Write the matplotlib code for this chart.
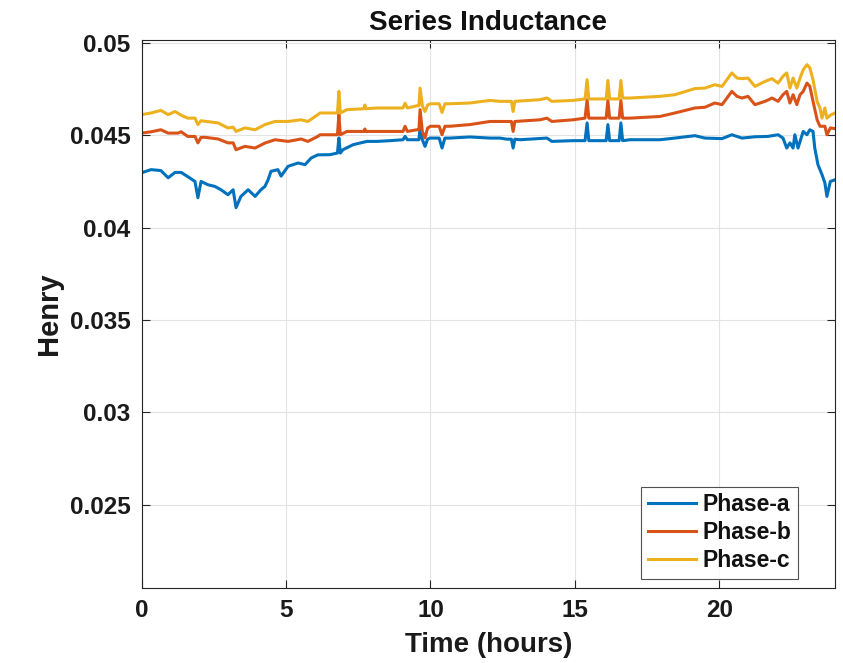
import matplotlib
matplotlib.use("Agg")
import matplotlib.pyplot as plt
import numpy as np

plt.rcParams['font.family'] = ['Liberation Sans', 'DejaVu Sans']
plt.rcParams['font.weight'] = 'bold'

# values (hours, Henry)
tA = [0, 0.33, 0.67, 0.92, 1.16, 1.37, 1.6, 1.85, 1.95, 2.06, 2.3, 2.54, 2.75, 2.99,
      3.17, 3.27, 3.44, 3.69, 3.93, 4.13, 4.27, 4.38, 4.48, 4.72, 4.83, 5.07, 5.42,
      5.66, 5.87, 6.1, 6.52, 6.78, 6.83, 6.88, 6.97, 7.32, 7.8, 8.15, 8.6, 9.05, 9.12,
      9.2, 9.5, 9.6, 9.64, 9.72, 9.81, 9.9, 9.98, 10.3, 10.4, 10.5, 10.67, 11.36,
      12.06, 12.4, 12.64, 12.8, 12.86, 12.92, 13.1, 14.03, 14.2, 14.93, 15.35, 15.42,
      15.48, 15.62, 16.08, 16.14, 16.2, 16.53, 16.59, 16.65, 16.9, 17.94, 18.46,
      19.15, 19.5, 20.09, 20.43, 20.78, 21.23, 21.68, 22.03, 22.2, 22.33, 22.44,
      22.55, 22.61, 22.72, 22.9, 23.03, 23.13, 23.24, 23.3, 23.41, 23.55, 23.65,
      23.72, 23.84, 24.0]
phaseA = [0.04298, 0.04315, 0.0431, 0.04271, 0.0430, 0.0430, 0.04277, 0.04251, 0.04163,
          0.04251, 0.04233, 0.04224, 0.04206, 0.04179, 0.04206, 0.04109, 0.0417, 0.04206,
          0.0417, 0.04206, 0.04224, 0.0426, 0.04306, 0.04315, 0.0428, 0.04333, 0.04351,
          0.04342, 0.04378, 0.04395, 0.04396, 0.04405, 0.04487, 0.04405, 0.04423, 0.0445,
          0.04468, 0.04468, 0.04472, 0.04477, 0.04495, 0.04477, 0.04477, 0.04477, 0.04541,
          0.04477, 0.04441, 0.0448, 0.04486, 0.04486, 0.04432, 0.04486, 0.04486, 0.04492,
          0.04486, 0.04486, 0.0448, 0.0448, 0.04432, 0.0448, 0.04477, 0.04486, 0.04468,
          0.04472, 0.04472, 0.04568, 0.04472, 0.04472, 0.04472, 0.04559, 0.04472, 0.04472,
          0.04568, 0.04472, 0.04477, 0.04477, 0.04486, 0.04499, 0.04486, 0.04483, 0.04504,
          0.04486, 0.04493, 0.04495, 0.04504, 0.04486, 0.04432, 0.0446, 0.04432, 0.04504,
          0.04432, 0.04522, 0.04504, 0.04531, 0.04522, 0.04432, 0.04342, 0.04288, 0.04243,
          0.0417, 0.04251, 0.0426]

tB = [0, 0.33, 0.67, 0.92, 1.26, 1.37, 1.6, 1.85, 1.95, 2.06, 2.2, 2.65, 2.99, 3.17,
      3.27, 3.58, 3.93, 4.27, 4.62, 5.07, 5.52, 5.76, 6.1, 6.18, 6.78, 6.83, 6.88,
      7.11, 7.7, 7.73, 7.76, 8.15, 9.05, 9.12, 9.2, 9.53, 9.6, 9.64, 9.72, 9.81, 9.9,
      10.0, 10.3, 10.4, 10.5, 10.67, 11.36, 12.06, 12.4, 12.8, 12.86, 12.92, 13.79,
      14.03, 14.2, 14.93, 15.35, 15.42, 15.48, 16.08, 16.14, 16.2, 16.53, 16.59, 16.65,
      16.9, 17.94, 18.46, 19.15, 19.5, 19.84, 20.09, 20.43, 20.61, 20.78, 20.99, 21.23,
      21.58, 21.82, 22.03, 22.2, 22.33, 22.44, 22.55, 22.68, 22.79, 22.9, 23.03, 23.13,
      23.24, 23.38, 23.48, 23.65, 23.72, 23.84, 24.0]
phaseB = [0.04513, 0.0452, 0.04531, 0.04513, 0.04513, 0.0452, 0.04495, 0.04495, 0.0446,
          0.0449, 0.0449, 0.04481, 0.0446, 0.0446, 0.04423, 0.04441, 0.04432, 0.04459,
          0.04477, 0.04468, 0.04481, 0.04468, 0.04495, 0.04504, 0.04504, 0.04613, 0.04504,
          0.04522, 0.04522, 0.04535, 0.04522, 0.04522, 0.04522, 0.0455, 0.04522, 0.04531,
          0.04531, 0.0464, 0.0452, 0.04487, 0.0454, 0.0455, 0.0455, 0.04504, 0.0455,
          0.0455, 0.04559, 0.04576, 0.04576, 0.04576, 0.04522, 0.04576, 0.04585, 0.04594,
          0.04576, 0.04585, 0.04594, 0.04694, 0.04594, 0.04594, 0.0469, 0.04594, 0.04594,
          0.0469, 0.04594, 0.04594, 0.04603, 0.04622, 0.04649, 0.04653, 0.04676, 0.04667,
          0.04739, 0.04712, 0.04703, 0.04712, 0.04667, 0.04685, 0.04703, 0.04685, 0.04721,
          0.04739, 0.04676, 0.04721, 0.04667, 0.04721, 0.04739, 0.04784, 0.04766, 0.04685,
          0.04586, 0.0455, 0.0455, 0.04504, 0.04541, 0.04537]

tC = [0, 0.33, 0.67, 0.92, 1.16, 1.37, 1.6, 1.85, 1.95, 2.06, 2.2, 2.65, 2.99, 3.17,
      3.27, 3.58, 3.93, 4.27, 4.62, 5.07, 5.52, 5.76, 6.1, 6.18, 6.78, 6.83, 6.88,
      7.11, 7.7, 7.73, 7.76, 8.15, 9.05, 9.12, 9.2, 9.53, 9.6, 9.64, 9.72, 9.81, 9.9,
      10.0, 10.3, 10.4, 10.5, 10.67, 11.36, 12.06, 12.4, 12.8, 12.86, 12.92, 13.79,
      14.03, 14.2, 14.93, 15.35, 15.42, 15.48, 16.08, 16.14, 16.2, 16.53, 16.59, 16.65,
      16.9, 17.94, 18.46, 19.15, 19.5, 19.84, 20.09, 20.43, 20.61, 20.78, 20.99, 21.23,
      21.58, 21.82, 22.03, 22.2, 22.33, 22.44, 22.55, 22.68, 22.79, 22.9, 23.03, 23.13,
      23.24, 23.38, 23.48, 23.55, 23.65, 23.72, 23.84, 24.0]
phaseC = [0.04613, 0.04622, 0.04636, 0.04613, 0.0463, 0.0461, 0.04594, 0.04594, 0.04559,
          0.0458, 0.04577, 0.04568, 0.04541, 0.04545, 0.04522, 0.04541, 0.04531, 0.04559,
          0.04576, 0.04576, 0.04585, 0.04576, 0.04613, 0.04622, 0.04622, 0.04739, 0.04622,
          0.0464, 0.04645, 0.04665, 0.04645, 0.04649, 0.04649, 0.04675, 0.04649, 0.04661,
          0.04661, 0.04757, 0.0466, 0.0463, 0.04665, 0.04672, 0.04672, 0.04625, 0.04672,
          0.04672, 0.04676, 0.0469, 0.04685, 0.04685, 0.0463, 0.04685, 0.04694, 0.04703,
          0.04685, 0.0469, 0.04698, 0.04802, 0.04698, 0.04698, 0.04798, 0.04698, 0.04698,
          0.04798, 0.04703, 0.04703, 0.04712, 0.04721, 0.04754, 0.04757, 0.04775, 0.04766,
          0.04839, 0.04811, 0.04808, 0.04811, 0.04766, 0.04793, 0.04808, 0.04784, 0.04821,
          0.04839, 0.04757, 0.04811, 0.04757, 0.04811, 0.04856, 0.04884, 0.04866, 0.04802,
          0.04685, 0.04649, 0.04594, 0.04649, 0.04594, 0.0461, 0.04622]

names = ['Phase-a', 'Phase-b', 'Phase-c']
colors = [(0, 0.447, 0.741), (0.85, 0.325, 0.098), (0.929, 0.694, 0.125)]

fig = plt.figure(figsize=(8.43, 6.63), dpi=100)
ax = fig.add_axes([0.1679, 0.1136, 0.8226, 0.8268])

for t, y, name, c in zip([tA, tB, tC], [phaseA, phaseB, phaseC], names, colors):
    ax.plot(t, y, color=c, linewidth=2.2, label=name)

ax.set_xlim(0, 24)
ax.set_ylim(0.0205, 0.0502)
ax.set_xticks([0, 5, 10, 15, 20])
ax.set_yticks([0.025, 0.03, 0.035, 0.04, 0.045, 0.05])
ax.set_yticklabels(['0.025', '0.03', '0.035', '0.04', '0.045', '0.05'])

ax.grid(True, color='#e3e3e3', linewidth=0.8)
ax.set_axisbelow(True)
for s in ax.spines.values():
    s.set_color('#262626')
    s.set_linewidth(0.8)
ax.tick_params(direction='in', length=6, width=0.8, top=True, right=True,
               labelsize=17.5, colors='#262626', labelcolor='#1a1a1a')
ax.tick_params(axis='x', pad=8)
ax.tick_params(axis='y', pad=8)

ax.set_title('Series Inductance', fontsize=20, fontweight='bold', pad=7, color='#111111')
ax.set_xlabel('Time (hours)', fontsize=20, fontweight='bold', labelpad=7, color='#1a1a1a')
ax.set_ylabel('Henry', fontsize=21, fontweight='bold', labelpad=5, color='#1a1a1a')

leg = ax.legend(loc='lower right', bbox_to_anchor=(0.9466, 0.0164), fontsize=16.5,
                frameon=True, fancybox=False, edgecolor='#262626', handlelength=2.1,
                borderpad=0.28, labelspacing=0.22, handletextpad=0.3, borderaxespad=0)
leg.get_frame().set_linewidth(0.8)
for txt in leg.get_texts():
    txt.set_color('#111111')

fig.savefig('out.png', dpi=100)
